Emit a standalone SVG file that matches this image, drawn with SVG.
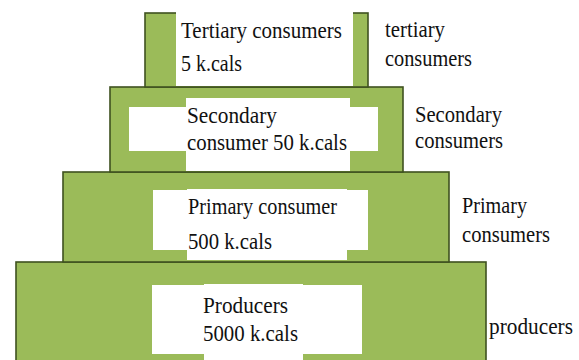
<svg xmlns="http://www.w3.org/2000/svg" width="579" height="360" viewBox="0 0 579 360" font-family="Liberation Serif, Times New Roman, DejaVu Serif, serif" font-size="23">
<style>
.lvl{fill:#9bbb59;stroke:#3f5220;stroke-width:1.6}
.win{fill:#ffffff}
text{fill:#111;font-family:"Liberation Serif","DejaVu Serif",serif}
</style>
<rect width="579" height="360" fill="#ffffff"/>
<g id="producers">
<rect class="lvl" x="16" y="262" width="470" height="102"/>
<rect class="win" x="152" y="285" width="210" height="69"/>
<rect class="win" x="204" y="284" width="99" height="76"/>
<text x="203" y="313" textLength="85" lengthAdjust="spacingAndGlyphs">Producers</text>
<text x="203" y="341" textLength="95" lengthAdjust="spacingAndGlyphs">5000 k.cals</text>
</g>
<g id="primary">
<rect class="lvl" x="63" y="172" width="386" height="90"/>
<rect class="win" x="153" y="190" width="215" height="60"/>
<rect class="win" x="187" y="189" width="160" height="71"/>
<text x="188" y="214" textLength="149" lengthAdjust="spacingAndGlyphs">Primary consumer</text>
<text x="188" y="249" textLength="84" lengthAdjust="spacingAndGlyphs">500 k.cals</text>
</g>
<g id="secondary">
<rect class="lvl" x="110" y="87" width="293" height="85"/>
<rect class="win" x="129" y="107" width="249" height="44"/>
<rect class="win" x="186" y="98" width="164" height="73"/>
<text x="187" y="123" textLength="90" lengthAdjust="spacingAndGlyphs">Secondary</text>
<text x="187" y="150" textLength="160" lengthAdjust="spacingAndGlyphs">consumer 50 k.cals</text>
</g>
<g id="tertiary">
<rect class="lvl" x="145" y="13" width="223" height="74"/>
<rect class="win" x="176" y="11" width="177" height="75"/>
<text x="181" y="38" textLength="161" lengthAdjust="spacingAndGlyphs">Tertiary consumers</text>
<text x="181" y="71" textLength="61" lengthAdjust="spacingAndGlyphs">5 k.cals</text>
</g>
<g id="labels">
<text x="385" y="37" textLength="60" lengthAdjust="spacingAndGlyphs">tertiary</text>
<text x="385" y="66" textLength="87" lengthAdjust="spacingAndGlyphs">consumers</text>
<text x="415" y="122" textLength="87" lengthAdjust="spacingAndGlyphs">Secondary</text>
<text x="415" y="148" textLength="88" lengthAdjust="spacingAndGlyphs">consumers</text>
<text x="462" y="213" textLength="65" lengthAdjust="spacingAndGlyphs">Primary</text>
<text x="462" y="242" textLength="88" lengthAdjust="spacingAndGlyphs">consumers</text>
<text x="489" y="334" textLength="84" lengthAdjust="spacingAndGlyphs">producers</text>
</g>
</svg>
